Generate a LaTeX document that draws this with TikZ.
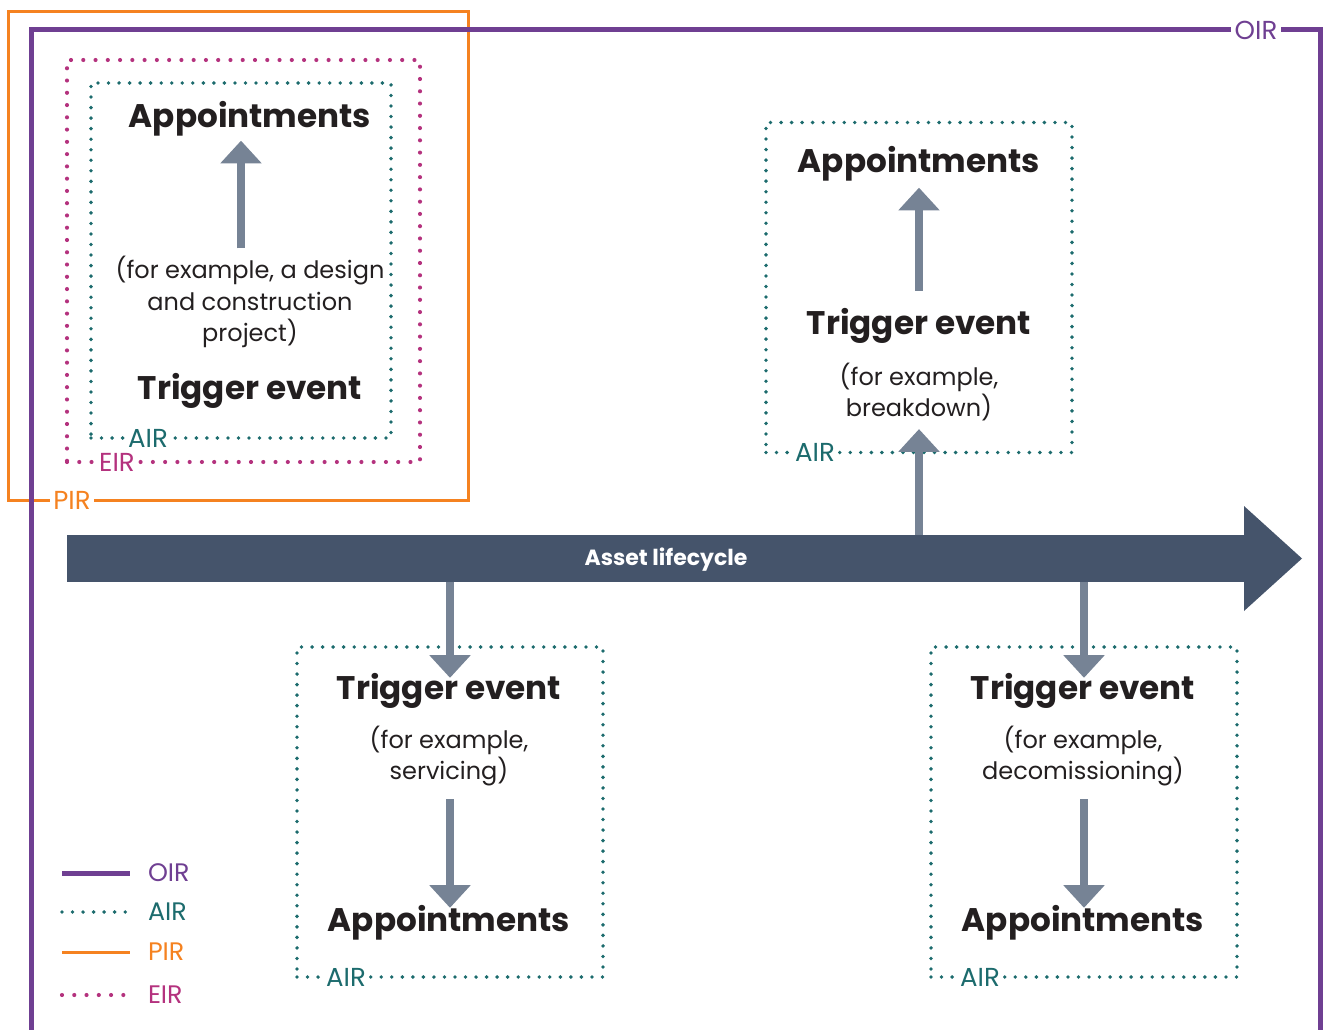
\documentclass[tikz,border=0pt]{standalone}
\usepackage{fontspec}
\setmainfont{Poppins}
\usetikzlibrary{arrows.meta,calc}
\definecolor{oircol}{HTML}{6F3F92}
\definecolor{aircol}{HTML}{1C6B6D}
\definecolor{pircol}{HTML}{F58220}
\definecolor{eircol}{HTML}{B4327E}
\definecolor{lifecol}{HTML}{45546B}
\definecolor{stepcol}{HTML}{768395}
\definecolor{inkcol}{HTML}{231F20}
\begin{document}
\begin{tikzpicture}[x=0.75pt,y=-0.75pt,inner sep=0pt,outer sep=0pt,
oirline/.style={draw=oircol,line width=3.75pt},
pirline/.style={draw=pircol,line width=2.25pt},
airline/.style={draw=aircol,line width=2.9pt,line cap=round,dash pattern=on 0pt off 7.9pt},
eirline/.style={draw=eircol,line width=3.1pt,line cap=round,dash pattern=on 0pt off 9.2pt},
airbox/.style={airline,rectangle,minimum width=229.5pt,minimum height=247.5pt},
tag/.style={fill=white,inner xsep=2.5pt,font=\fontsize{19.5}{19.5}\selectfont},
keytext/.style={font=\fontsize{19}{19}\selectfont},
head/.style={font=\fontsize{24.5}{24.5}\selectfont\bfseries,text=inkcol},
note/.style={font=\fontsize{18}{23.5}\selectfont,text=inkcol,align=center},
stepline/.style={draw=stepcol,line width=6pt,-{Triangle[width=30pt,length=17pt]}},
lifebody/.style={fill=lifecol,rectangle,minimum width=883.5pt,minimum height=35.25pt}]

\useasboundingbox (0,0) rectangle (1328,1030);

% frames
\node[pirline,rectangle,minimum width=345pt,minimum height=366pt] (pirbox) at (238,256) {};
\draw[oirline] (31,1045) -- (31,30) -- (1320,30) -- (1320,1045);
\node[eirline,rectangle,minimum width=264.75pt,minimum height=301.5pt] (eirbox) at (243.5,261) {};
\node[airline,rectangle,minimum width=225pt,minimum height=266.25pt] (box1) at (241,260.5) {};
\node[airbox] (box2) at (919,287.5) {};
\node[airbox] (box3) at (450,812) {};
\node[airbox] (box4) at (1084,812) {};

% frame labels
\node[tag,text=oircol] (oirtag) at (1256,30) {OIR};
\node[tag,text=pircol] (pirtag) at ($(pirbox.south west)+(64,0)$) {PIR};
\node[tag,text=eircol] (eirtag) at ($(eirbox.south west)+(50,0)$) {EIR};
\node[tag,text=aircol] (airtag1) at ($(box1.south west)+(57,0)$) {AIR};
\node[tag,text=aircol] (airtag2) at ($(box2.south west)+(49,0)$) {AIR};
\node[tag,text=aircol] (airtag3) at ($(box3.south west)+(49,0)$) {AIR};
\node[tag,text=aircol] (airtag4) at ($(box4.south west)+(49,0)$) {AIR};

% asset lifecycle arrow
\node[lifebody] (life) at (656,558.5) {};
\fill[lifecol] ($(life.north east)+(-1,-29)$) -- ($(life.east)+(57,0)$) -- ($(life.south east)+(-1,29)$) -- cycle;
\node[font=\fontsize{16.5}{16.5}\selectfont\bfseries,text=white] (lifetext) at ($(life.center)+(10,1)$) {Asset lifecycle};

% box 1
\node[head,anchor=base] (app1) at (250,128) {Appointments};
\node[note] (desc1) at (250,302) {(for example, a design\\and construction\\project)};
\node[head,anchor=base] (trig1) at (250,400) {Trigger event};
\draw[stepline] ($(desc1.north -| box1.center)+(0,-8)$) -- ($(app1.south -| box1.center)+(0,4)$);

% box 2
\node[head,anchor=base] (app2) at (919,173) {Appointments};
\node[head,anchor=base] (trig2) at (919,335) {Trigger event};
\node[note] (desc2) at (919,392) {(for example,\\breakdown)};
\draw[stepline] ($(trig2.north -| box2.center)+(0,-18)$) -- ($(app2.south -| box2.center)+(0,6)$);
\draw[stepline] (life.north -| box2.center) -- ($(desc2.south -| box2.center)+(0,8)$);

% box 3
\node[head,anchor=base] (trig3) at (449,699) {Trigger event};
\node[note] (desc3) at (449,756) {(for example,\\servicing)};
\node[head,anchor=base] (app3) at (449,931) {Appointments};
\draw[stepline] (life.south -| box3.center) -- ($(trig3.north -| box3.center)+(0,5)$);
\draw[stepline] ($(desc3.south -| box3.center)+(0,13)$) -- ($(app3.north -| box3.center)+(0,3)$);

% box 4
\node[head,anchor=base] (trig4) at (1083,699) {Trigger event};
\node[note] (desc4) at (1083,756) {(for example,\\decomissioning)};
\node[head,anchor=base] (app4) at (1083,931) {Appointments};
\draw[stepline] (life.south -| box4.center) -- ($(trig4.north -| box4.center)+(0,5)$);
\draw[stepline] ($(desc4.south -| box4.center)+(0,13)$) -- ($(app4.north -| box4.center)+(0,3)$);

% legend
\foreach \keyname/\txt/\yy in {oir/OIR/873,air/AIR/912,pir/PIR/952,eir/EIR/995}{
  \draw[\keyname line] (62,\yy) -- (130,\yy);
  \node[keytext,text=\keyname col,anchor=west] (key\keyname) at (148,\yy) {\txt};
}
\end{tikzpicture}
\end{document}
